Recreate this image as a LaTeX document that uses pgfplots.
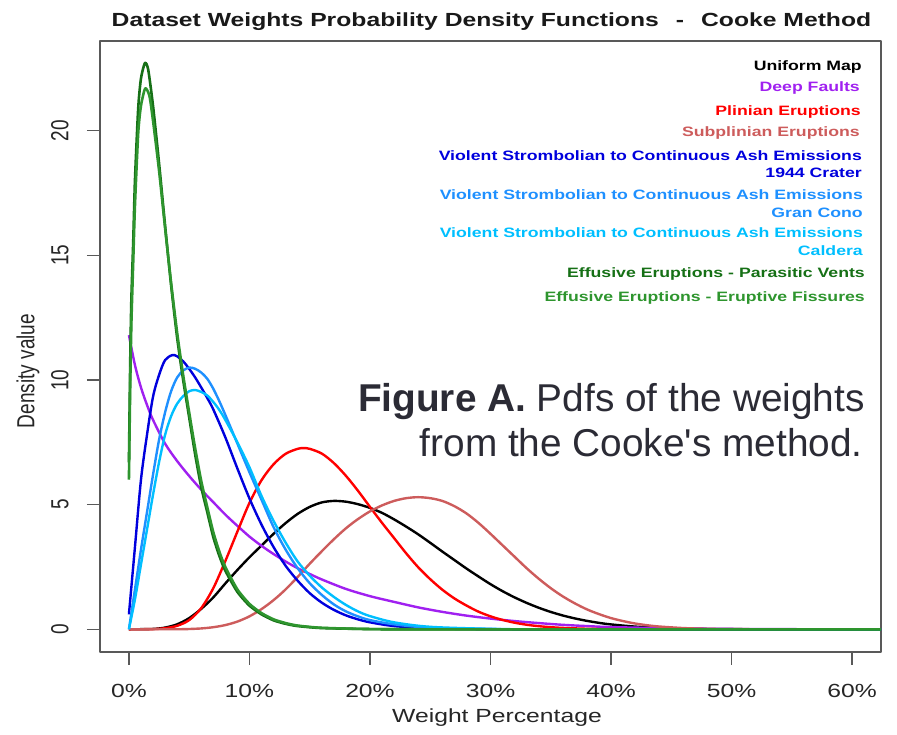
\documentclass[border=0pt]{standalone}
\usepackage{pgfplots}
\pgfplotsset{compat=1.18}
\usepackage{fontspec}
\setmainfont{Liberation Sans}
\newfontfamily\chartfont{Liberation Sans}[FakeStretch=1.3]
\newfontfamily\plainfont{Liberation Sans}
\newcommand\ys[1]{\scalebox{1}[1.3]{#1}}
\definecolor{cuni}{HTML}{000000}
\definecolor{cdeep}{HTML}{A020F0}
\definecolor{cplin}{HTML}{FF0000}
\definecolor{csubp}{HTML}{CD5C5C}
\definecolor{ccrat}{HTML}{0000DD}
\definecolor{cgran}{HTML}{1E90FF}
\definecolor{ccald}{HTML}{00BFFF}
\definecolor{cpara}{HTML}{167016}
\definecolor{cfiss}{HTML}{2E952E}
\definecolor{cann}{HTML}{2B2B35}
\begin{document}
\begin{tikzpicture}
\useasboundingbox (-100pt,-83pt) rectangle (797pt,652pt);
\begin{axis}[
  scale only axis, width=781pt, height=611pt,
  xmin=-2.4, xmax=62.4, ymin=-0.91, ymax=23.6,
  axis line style={draw=black!65, line width=1.3pt},
  tick style={draw=black!65, line width=1.3pt},
  tick align=outside, major tick length=13pt,
  xtick pos=lower, ytick pos=left,
  xtick={0,10,20,30,40,50,60},
  xticklabels={0\%,10\%,20\%,30\%,40\%,50\%,60\%},
  ytick={0,5,10,15,20},
  yticklabels={\ys{0},\ys{5},\ys{10},\ys{15},\ys{20}},
  /pgf/number format/assume math mode=true,
  xticklabel style={font=\chartfont\fontsize{19}{22}\selectfont, text=black!85, anchor=center, yshift=-26pt},
  yticklabel style={font=\plainfont\fontsize{19}{22}\selectfont, text=black!85, xshift=-27pt, rotate=90, anchor=center},
  line join=round,
]
\addplot[cuni, line width=2.4pt, smooth] coordinates {
(0,0) (2,0.015) (3,0.07) (4,0.2) (5,0.45) (6,0.82) (7,1.28) (8,1.84) (9,2.38) (10,2.89) (11,3.36) (12,3.83) (13,4.26) (14,4.63) (15,4.91) (16,5.09) (17,5.15) (18,5.12) (19,5.02) (20,4.87) (21,4.67) (22,4.41) (23,4.12) (24,3.81) (25,3.47) (26,3.12) (27,2.78) (28,2.44) (29,2.12) (30,1.81) (31,1.53) (32,1.28) (33,1.06) (34,0.865) (35,0.697) (36,0.554) (37,0.437) (38,0.339) (39,0.259) (40,0.196) (42,0.109) (44,0.057) (46,0.029) (48,0.014) (50,0.006) (55,0) (62.4,0)};
\addplot[cdeep, line width=2.4pt, smooth] coordinates {
(0,11.8) (0.5,10.6) (1,9.7) (1.5,9.0) (2,8.4) (3,7.45) (4,6.75) (5,6.15) (6,5.6) (7,5.1) (8,4.6) (9,4.15) (10,3.72) (11,3.35) (12,3.02) (13,2.72) (14,2.45) (15,2.22) (16,2.0) (18,1.62) (20,1.33) (22,1.1) (24,0.88) (26,0.7) (28,0.55) (30,0.43) (32,0.33) (34,0.25) (36,0.18) (38,0.13) (40,0.09) (45,0.04) (50,0.015) (55,0.005) (60,0) (62.4,0)};
\addplot[cplin, line width=2.4pt, smooth] coordinates {
(0,0) (2,0.01) (3,0.045) (4,0.14) (5,0.37) (6,0.85) (7,1.65) (8,2.74) (9,3.92) (10,5.07) (11,5.98) (12,6.62) (13,7.04) (14,7.24) (14.5,7.27) (15,7.24) (16,7.05) (17,6.67) (18,6.16) (19,5.56) (20,4.91) (21,4.27) (22,3.66) (23,3.05) (24,2.49) (25,2.01) (26,1.59) (27,1.24) (28,0.955) (29,0.708) (30,0.52) (31,0.376) (32,0.265) (33,0.183) (34,0.126) (35,0.085) (36,0.056) (38,0.022) (40,0.008) (43,0.002) (45,0) (62.4,0)};
\addplot[csubp, line width=2.4pt, smooth] coordinates {
(0,0) (4,0.003) (5,0.012) (6,0.035) (7,0.084) (8,0.17) (9,0.31) (10,0.52) (11,0.81) (12,1.17) (13,1.6) (14,2.1) (15,2.63) (16,3.13) (17,3.61) (18,4.05) (19,4.42) (20,4.73) (21,4.97) (22,5.15) (23,5.26) (24,5.3) (25,5.26) (26,5.15) (27,4.94) (28,4.65) (29,4.27) (30,3.83) (31,3.37) (32,2.91) (33,2.45) (34,2.03) (35,1.65) (36,1.32) (37,1.04) (38,0.8) (39,0.61) (40,0.45) (41,0.33) (42,0.233) (43,0.163) (44,0.112) (46,0.05) (48,0.02) (50,0.008) (53,0.002) (56,0) (62.4,0)};
\addplot[ccrat, line width=2.4pt, smooth] coordinates {
(0,0.6) (0.5,3.3) (1,6.0) (1.5,7.8) (2,9.33) (2.5,10.2) (3,10.8) (3.6,11.0) (4,10.95) (4.5,10.75) (5,10.45) (5.5,10.1) (6,9.7) (6.5,9.28) (7,8.82) (8,7.7) (9,6.45) (10,5.25) (11,4.2) (12,3.3) (13,2.55) (14,1.95) (15,1.45) (16,1.07) (17,0.78) (18,0.56) (19,0.4) (20,0.28) (22,0.13) (25,0.04) (30,0.005) (35,0) (62.4,0)};
\addplot[cgran, line width=2.4pt, smooth] coordinates {
(0,0) (0.5,1.6) (1,3.2) (1.5,4.7) (2,6.2) (2.5,7.6) (3,8.7) (3.5,9.55) (4,10.1) (4.5,10.38) (5,10.5) (5.5,10.45) (6,10.3) (6.5,10.05) (7,9.65) (7.5,9.15) (8,8.6) (9,7.45) (10,6.3) (11,5.2) (12,4.1) (13,3.2) (14,2.45) (15,1.85) (16,1.38) (17,1.0) (18,0.72) (19,0.52) (20,0.37) (22,0.2) (25,0.06) (30,0.01) (35,0) (62.4,0)};
\addplot[ccald, line width=2.4pt, smooth] coordinates {
(0,0) (0.5,1.2) (1,2.6) (1.5,4.0) (2,5.4) (2.5,6.7) (3,7.8) (3.5,8.55) (4,9.05) (4.5,9.35) (5,9.55) (5.5,9.6) (6,9.52) (6.5,9.38) (7,9.12) (7.5,8.8) (8,8.4) (9,7.5) (10,6.5) (11,5.35) (12,4.35) (13,3.48) (14,2.72) (15,2.15) (16,1.68) (17,1.3) (18,0.98) (19,0.72) (20,0.53) (22,0.28) (25,0.1) (30,0.02) (35,0) (62.4,0)};
\addplot[cpara, line width=2.6pt, smooth, tension=0.4] coordinates {
(0,6.7) (0.1,10.5) (0.2,13.2) (0.36,15.6) (0.5,18.0) (0.77,20.9) (1.0,22.1) (1.33,22.72) (1.6,22.45) (2.0,21.0) (2.5,18.7) (3.0,16.2) (3.5,13.8) (4.0,11.7) (4.5,10.0) (5.0,8.5) (5.5,7.0) (6.0,5.7) (6.5,4.7) (7.0,3.7) (7.5,2.95) (8.0,2.35) (9,1.5) (10,0.95) (11,0.6) (12,0.36) (13,0.22) (14,0.13) (16,0.05) (20,0.01) (25,0) (62.4,0)};
\addplot[cfiss, line width=2.6pt, smooth, tension=0.4] coordinates {
(0,6.0) (0.1,9.5) (0.2,12.2) (0.36,14.8) (0.5,17.0) (0.77,19.9) (1.0,21.0) (1.35,21.7) (1.7,21.4) (2.0,20.4) (2.5,18.4) (3.0,16.1) (3.5,13.9) (4.0,11.9) (4.5,10.2) (5.0,8.7) (5.5,7.25) (6.0,5.95) (6.5,4.9) (7.0,3.9) (7.5,3.12) (8.0,2.5) (9,1.6) (10,1.02) (11,0.65) (12,0.4) (13,0.25) (14,0.15) (16,0.06) (20,0.01) (25,0) (62.4,0)};
\end{axis}
% title and axis labels
\node[anchor=base, font=\chartfont\bfseries\fontsize{19}{22}\selectfont, text=black!90] at (391.5pt,625pt) {Dataset Weights Probability Density Functions\hspace{17pt}-\hspace{17pt}Cooke Method};
\node[anchor=center, font=\chartfont\fontsize{19}{22}\selectfont, text=black!85] at (397pt,-66pt) {Weight Percentage};
\node[anchor=center, rotate=90, font=\plainfont\fontsize{19}{22}\selectfont, text=black!85] at (-72pt,281pt) {\ys{Density value}};
% legend (text only)
\begin{scope}[every node/.style={anchor=base east, font=\chartfont\bfseries\fontsize{13.6}{16}\selectfont, inner sep=0pt}]
\node[text=cuni] at (762pt,581pt) {Uniform Map};
\node[text=cdeep] at (760pt,560pt) {Deep Faults};
\node[text=cplin] at (761pt,536pt) {Plinian Eruptions};
\node[text=csubp] at (760pt,515pt) {Subplinian Eruptions};
\node[text=ccrat] at (762pt,491pt) {Violent Strombolian to Continuous Ash Emissions};
\node[text=ccrat] at (762pt,474pt) {1944 Crater};
\node[text=cgran] at (763pt,452pt) {Violent Strombolian to Continuous Ash Emissions};
\node[text=cgran] at (763pt,434pt) {Gran Cono};
\node[text=ccald] at (763pt,414pt) {Violent Strombolian to Continuous Ash Emissions};
\node[text=ccald] at (763pt,396pt) {Caldera};
\node[text=cpara] at (765pt,374pt) {Effusive Eruptions - Parasitic Vents};
\node[text=cfiss] at (765pt,350pt) {Effusive Eruptions - Eruptive Fissures};
\end{scope}
% annotation
\node[anchor=base east, inner sep=0pt, text=cann, font=\plainfont\fontsize{38.8}{44}\selectfont] at (765pt,240pt) {\textbf{Figure A.} Pdfs of the weights};
\node[anchor=base east, inner sep=0pt, text=cann, font=\plainfont\fontsize{38.8}{44}\selectfont] at (763pt,195pt) {from the Cooke's method.};
\end{tikzpicture}
\end{document}
